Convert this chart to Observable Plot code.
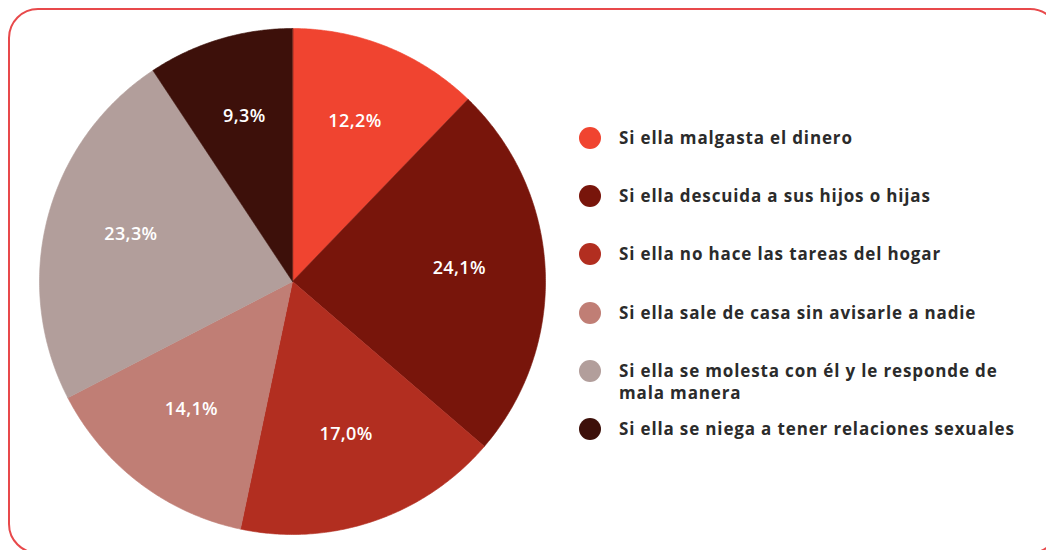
<!DOCTYPE html>
<html>
<head>
<meta charset="utf-8">
<script src="https://cdn.jsdelivr.net/npm/d3@7"></script>
<script src="https://cdn.jsdelivr.net/npm/@observablehq/plot@0.6"></script>
<style>
  html, body { margin: 0; padding: 0; background: #fff; overflow: hidden; }
  #wrap { position: relative; width: 1046px; height: 550px; overflow: hidden; font-family: "Open Sans", sans-serif; }
  #frame { position: absolute; left: 8px; top: 8px; width: 1052px; height: 546px; box-sizing: border-box;
           border: 2.5px solid #e8494b; border-radius: 30px; }
  #chart { position: absolute; left: 0; top: 0; }
  #legend { position: absolute; left: 0; top: 0; }
  .item { position: absolute; left: 579px; }
  .sw { position: absolute; left: 0; top: 0; width: 22px; height: 22px; border-radius: 50%; }
  .lab { position: absolute; left: 40px; top: 0; width: 440px; font-size: 17px; line-height: 22px;
         letter-spacing: 0.85px; font-weight: 700; color: #2b2b2b; white-space: pre-line; }
</style>
</head>
<body>
<div id="wrap">
  <div id="frame"></div>
  <div id="chart"></div>
  <div id="legend"></div>
</div>
<script>
const categories = [
  "Si ella malgasta el dinero",
  "Si ella descuida a sus hijos o hijas",
  "Si ella no hace las tareas del hogar",
  "Si ella sale de casa sin avisarle a nadie",
  "Si ella se molesta con él y le responde de\nmala manera",
  "Si ella se niega a tener relaciones sexuales"
];
const values = [12.2, 24.1, 17.0, 14.1, 23.3, 9.3];
const valueLabels = ["12,2%", "24,1%", "17,0%", "14,1%", "23,3%", "9,3%"];
const colors = ["#f04430", "#78150b", "#b22e20", "#c07e75", "#b29e9b", "#3d100a"];

// build slice polygons from the data (angles clockwise from 12 o'clock)
const total = d3.sum(values);
let cum = 0;
const polyPts = [];
const labelPts = [];
values.forEach((v, i) => {
  const a0 = cum / total * 2 * Math.PI;
  const a1 = (cum + v) / total * 2 * Math.PI;
  cum += v;
  polyPts.push({k: categories[i], x: 0, y: 0});
  const n = Math.max(2, Math.ceil((a1 - a0) / (Math.PI / 360)));
  for (let j = 0; j <= n; j++) {
    const a = a0 + (a1 - a0) * j / n;
    polyPts.push({k: categories[i], x: Math.sin(a), y: Math.cos(a)});
  }
  const am = (a0 + a1) / 2;
  const f = 0.66;
  labelPts.push({k: categories[i], t: valueLabels[i], x: f * Math.sin(am), y: f * Math.cos(am)});
});

const chart = Plot.plot({
  width: 1046,
  height: 550,
  margin: 0,
  x: {domain: [-1, 1], range: [39, 545], axis: null},
  y: {domain: [-1, 1], range: [534, 28], axis: null},
  color: {domain: categories, range: colors},
  style: {background: "transparent", fontFamily: "Open Sans, sans-serif"},
  marks: [
    Plot.line(polyPts, {x: "x", y: "y", z: "k", fill: "k", stroke: "k", strokeWidth: 0.6, curve: "linear-closed"}),
    Plot.text(labelPts, {x: "x", y: "y", text: "t", fill: "white", fontSize: 18, fontWeight: 600, dy: -5,
                         style: "letter-spacing:0.4px"})
  ]
});
document.getElementById("chart").appendChild(chart);
chart.querySelectorAll("text").forEach(t => t.style.letterSpacing = "0.4px");

const colorScale = chart.scale("color");
const legend = document.getElementById("legend");
categories.forEach((c, i) => {
  const cy = 138 + i * 58.2;
  const item = document.createElement("div");
  item.className = "item";
  item.style.top = (cy - 11) + "px";
  const sw = document.createElement("div");
  sw.className = "sw";
  sw.style.background = colorScale.apply(c);
  const lab = document.createElement("div");
  lab.className = "lab";
  lab.textContent = c;
  item.appendChild(sw);
  item.appendChild(lab);
  legend.appendChild(item);
});
</script>
</body>
</html>
